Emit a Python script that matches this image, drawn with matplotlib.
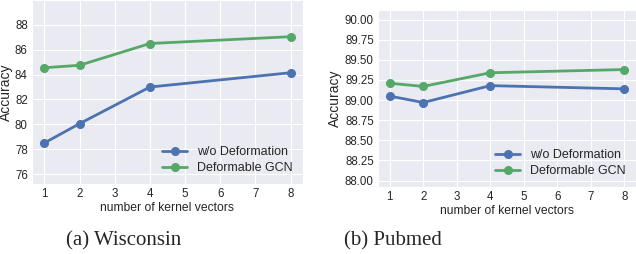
import matplotlib
matplotlib.use("Agg")
import matplotlib.pyplot as plt
import seaborn as sns

sns.set_style("darkgrid")
plt.rcParams['font.family'] = ['Liberation Sans', 'DejaVu Sans']

# data
kernels = [1, 2, 4, 8]
wis_wo = [78.5, 80.05, 83.0, 84.15]
wis_def = [84.55, 84.75, 86.5, 87.05]
pub_wo = [89.05, 88.97, 89.18, 89.14]
pub_def = [89.21, 89.17, 89.34, 89.38]
captions = ["(a) Wisconsin", "(b) Pubmed"]

blue = "#4C72B0"
green = "#55A868"

fig = plt.figure(figsize=(6.36, 2.54), dpi=100)
ax1 = fig.add_axes([32 / 636, 70 / 254, 271 / 636, 184 / 254])
ax2 = fig.add_axes([378 / 636, 67 / 254, 258 / 636, 177 / 254])

panels = [(ax1, wis_wo, wis_def, (75.2, 90.0), [76, 78, 80, 82, 84, 86, 88], "{:.0f}", -0.071),
          (ax2, pub_wo, pub_def, (87.92, 90.12),
           [88.0, 88.25, 88.5, 88.75, 89.0, 89.25, 89.5, 89.75, 90.0], "{:.2f}", -0.14)]

for ax, wo, de, ylim, yt, fmt, ylx in panels:
    ax.plot(kernels, wo, marker='o', color=blue, lw=2, ms=5.5, label='w/o Deformation')
    ax.plot(kernels, de, marker='o', color=green, lw=2, ms=5.5, label='Deformable GCN')
    ax.set_xlim(0.65, 8.35)
    ax.set_xticks(range(1, 9))
    ax.set_ylim(*ylim)
    ax.set_yticks(yt)
    ax.set_yticklabels([fmt.format(v) for v in yt])
    ax.tick_params(labelsize=8.3, length=0, pad=3, colors='#262626')
    ax.set_xlabel('number of kernel vectors', fontsize=8.7, labelpad=1, color='#262626')
    ax.set_ylabel('Accuracy', fontsize=10, color='#262626')
    ax.yaxis.set_label_coords(ylx, 0.5)
    ax.legend(loc='lower right', fontsize=9, frameon=False, labelspacing=0.3,
              borderaxespad=0.4, handlelength=2.0)

fig.text(124 / 636, 1 - 241 / 254, captions[0], ha='center', va='center',
         family='Liberation Serif', fontsize=15)
fig.text(393 / 636, 1 - 241 / 254, captions[1], ha='center', va='center',
         family='Liberation Serif', fontsize=15)

fig.savefig('out.png', dpi=100)
